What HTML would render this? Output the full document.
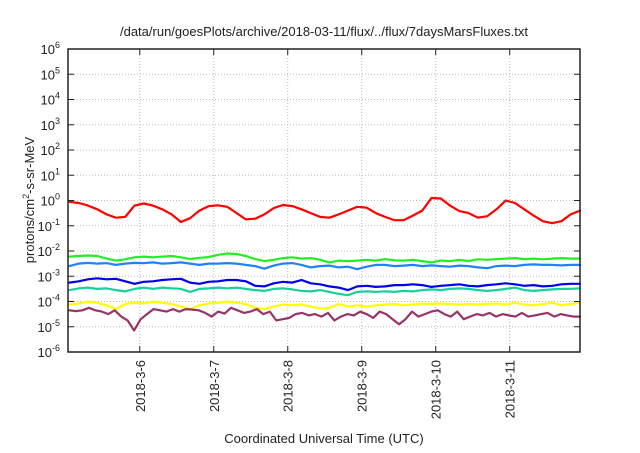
<!DOCTYPE html>
<html><head><meta charset="utf-8"><style>
html,body{margin:0;padding:0;background:#fff;}
svg text{font-family:"Liberation Sans",sans-serif;fill:#222;}
</style></head><body>
<svg id="chart" width="640" height="448" viewBox="0 0 640 448" xmlns="http://www.w3.org/2000/svg">
<text x="324" y="36" font-size="13" text-anchor="middle">/data/run/goesPlots/archive/2018-03-11/flux/../flux/7daysMarsFluxes.txt</text>
<text transform="translate(34,200) rotate(-90)" font-size="13" text-anchor="middle">protons/cm<tspan baseline-shift="super" font-size="9">2</tspan>-s-sr-MeV</text>
<text x="324" y="443" font-size="13" text-anchor="middle">Coordinated Universal Time (UTC)</text>
<g id="grid"></g><g id="series"></g><g id="axes"></g>
</svg>
<script>
const dayTicks = [6, 7, 8, 9, 10, 11];
const dayTickLabels = ["2018-3-6","2018-3-7","2018-3-8","2018-3-9","2018-3-10","2018-3-11"];
const yTickExps = [6,5,4,3,2,1,0,-1,-2,-3,-4,-5,-6];
const tStart = 5.05, tEnd = 11.95;
const redFlux = [-0.05,-0.1,-0.2,-0.35,-0.55,-0.68,-0.65,-0.2,-0.12,-0.2,-0.35,-0.55,-0.85,-0.7,-0.4,-0.22,-0.19,-0.25,-0.5,-0.75,-0.72,-0.55,-0.3,-0.18,-0.22,-0.35,-0.5,-0.65,-0.68,-0.55,-0.4,-0.25,-0.28,-0.5,-0.65,-0.78,-0.78,-0.6,-0.4,0.1,0.08,-0.2,-0.42,-0.5,-0.68,-0.62,-0.35,0.0,-0.1,-0.35,-0.6,-0.82,-0.9,-0.82,-0.55,-0.4];
const greenFlux = [-2.22,-2.2,-2.18,-2.2,-2.3,-2.38,-2.33,-2.25,-2.22,-2.25,-2.22,-2.2,-2.25,-2.32,-2.27,-2.24,-2.15,-2.1,-2.12,-2.2,-2.32,-2.4,-2.35,-2.28,-2.25,-2.3,-2.28,-2.35,-2.45,-2.38,-2.4,-2.38,-2.35,-2.38,-2.32,-2.37,-2.38,-2.35,-2.4,-2.45,-2.38,-2.4,-2.35,-2.4,-2.33,-2.35,-2.32,-2.3,-2.28,-2.32,-2.3,-2.33,-2.3,-2.28,-2.3,-2.3];
const skyFlux = [-2.6,-2.5,-2.47,-2.5,-2.48,-2.55,-2.5,-2.47,-2.48,-2.45,-2.5,-2.48,-2.45,-2.5,-2.55,-2.5,-2.5,-2.48,-2.5,-2.55,-2.6,-2.7,-2.58,-2.5,-2.48,-2.55,-2.65,-2.6,-2.58,-2.65,-2.62,-2.72,-2.62,-2.55,-2.55,-2.6,-2.58,-2.55,-2.6,-2.57,-2.6,-2.62,-2.58,-2.6,-2.65,-2.68,-2.6,-2.58,-2.6,-2.55,-2.53,-2.55,-2.55,-2.57,-2.55,-2.55];
const blueFlux = [-3.25,-3.2,-3.12,-3.08,-3.12,-3.1,-3.2,-3.3,-3.22,-3.2,-3.15,-3.12,-3.1,-3.25,-3.3,-3.22,-3.2,-3.15,-3.15,-3.2,-3.38,-3.4,-3.28,-3.22,-3.25,-3.15,-3.28,-3.32,-3.4,-3.45,-3.55,-3.4,-3.38,-3.42,-3.4,-3.35,-3.35,-3.32,-3.35,-3.42,-3.38,-3.35,-3.32,-3.38,-3.4,-3.35,-3.32,-3.28,-3.32,-3.38,-3.35,-3.4,-3.38,-3.32,-3.3,-3.3];
const tealFlux = [-3.55,-3.48,-3.45,-3.5,-3.48,-3.55,-3.6,-3.5,-3.45,-3.5,-3.45,-3.48,-3.5,-3.62,-3.5,-3.48,-3.45,-3.48,-3.45,-3.5,-3.55,-3.58,-3.5,-3.48,-3.52,-3.58,-3.6,-3.55,-3.62,-3.7,-3.75,-3.62,-3.6,-3.62,-3.6,-3.62,-3.58,-3.6,-3.55,-3.52,-3.55,-3.5,-3.48,-3.5,-3.55,-3.58,-3.55,-3.5,-3.45,-3.55,-3.58,-3.55,-3.52,-3.5,-3.5,-3.48];
const yellowFlux = [-4.12,-4.08,-4.0,-4.05,-4.15,-4.3,-4.1,-4.05,-4.08,-4.0,-4.05,-4.1,-4.2,-4.3,-4.15,-4.08,-4.05,-4.0,-4.05,-4.1,-4.25,-4.3,-4.2,-4.12,-4.15,-4.12,-4.2,-4.28,-4.25,-4.1,-4.2,-4.15,-4.2,-4.15,-4.12,-4.1,-4.15,-4.12,-4.08,-4.1,-4.08,-4.1,-4.12,-4.1,-4.12,-4.1,-4.08,-4.12,-4.05,-4.12,-4.15,-4.1,-4.05,-4.15,-4.1,-4.05];
const purpleFlux = [-4.35,-4.38,-4.35,-4.25,-4.35,-4.4,-4.5,-4.35,-4.6,-4.75,-5.15,-4.7,-4.5,-4.3,-4.35,-4.4,-4.3,-4.4,-4.3,-4.32,-4.35,-4.45,-4.6,-4.4,-4.48,-4.25,-4.35,-4.45,-4.4,-4.3,-4.5,-4.4,-4.75,-4.7,-4.65,-4.5,-4.45,-4.55,-4.5,-4.6,-4.45,-4.75,-4.6,-4.5,-4.55,-4.4,-4.5,-4.65,-4.4,-4.5,-4.7,-4.9,-4.7,-4.4,-4.6,-4.5,-4.4,-4.35,-4.5,-4.6,-4.4,-4.7,-4.6,-4.5,-4.55,-4.45,-4.6,-4.5,-4.55,-4.6,-4.45,-4.6,-4.55,-4.5,-4.45,-4.6,-4.5,-4.55,-4.6,-4.6];

const L=68,R=580,T=49,B=352;
const dayMin=5.03, dayMax=11.95;
function xScale(d){return L+(d-dayMin)/(dayMax-dayMin)*(R-L);}
function yScale(e){return T+(6-e)/12*(B-T);}
const NS="http://www.w3.org/2000/svg";
function mk(tag,attrs,parent){const e=document.createElementNS(NS,tag);for(const k in attrs)e.setAttribute(k,attrs[k]);parent.appendChild(e);return e;}
const grid=document.getElementById('grid'),axes=document.getElementById('axes'),ser=document.getElementById('series');

yTickExps.forEach(e=>{
  const y=yScale(e);
  if(e<6&&e>-6){const g=mk('line',{x1:L,x2:R,y1:y,y2:y,stroke:'#bbb','stroke-width':1,'stroke-dasharray':'1,2'},grid);
  
  }
  const t1=mk('line',{x1:L,x2:L+6,y1:y,y2:y,stroke:'#222'},axes);
  
  
  const t2=mk('line',{x1:R-6,x2:R,y1:y,y2:y,stroke:'#222'},axes);
  
  
  const tx=mk('text',{x:L-8,y:y+5,'font-size':13,'text-anchor':'end'},axes);
  
  
  tx.innerHTML='10<tspan dy="-6" font-size="9">'+e+'</tspan>';
});
dayTicks.forEach((d,i)=>{
  const x=xScale(d);
  const g=mk('line',{x1:x,x2:x,y1:T,y2:B,stroke:'#bbb','stroke-width':1,'stroke-dasharray':'1,2'},grid);
  
  
  const t1=mk('line',{x1:x,x2:x,y1:B-6,y2:B,stroke:'#222'},axes);
  
  
  const t2=mk('line',{x1:x,x2:x,y1:T,y2:T+6,stroke:'#222'},axes);
  
  
  const tx=mk('text',{transform:'translate('+(x+5)+',360) rotate(-90)','font-size':13,'text-anchor':'end'},axes);
  
  
  tx.textContent=dayTickLabels[i];
});
const frame=mk('rect',{x:L,y:T,width:R-L,height:B-T,fill:'none',stroke:'#222','stroke-width':1.5},axes);



const seriesList=[[redFlux,'#ff0000','series-red'],[greenFlux,'#22ee22','series-green'],[skyFlux,'#1e82ff','series-light-blue'],[blueFlux,'#0000ee','series-blue'],[tealFlux,'#19cfa0','series-teal'],[yellowFlux,'#ffff00','series-yellow'],[purpleFlux,'#993366','series-purple']];
seriesList.forEach(s=>{
  const vals=s[0],n=vals.length;
  const pts=vals.map((v,i)=>{const d=tStart+i*(tEnd-tStart)/(n-1);return xScale(d).toFixed(1)+','+yScale(v).toFixed(1);}).join(' ');
  const p=mk('polyline',{points:pts,fill:'none',stroke:s[1],'stroke-width':2.2,'stroke-linejoin':'round','stroke-linecap':'round'},ser);
  
  
});
</script>
</body></html>
